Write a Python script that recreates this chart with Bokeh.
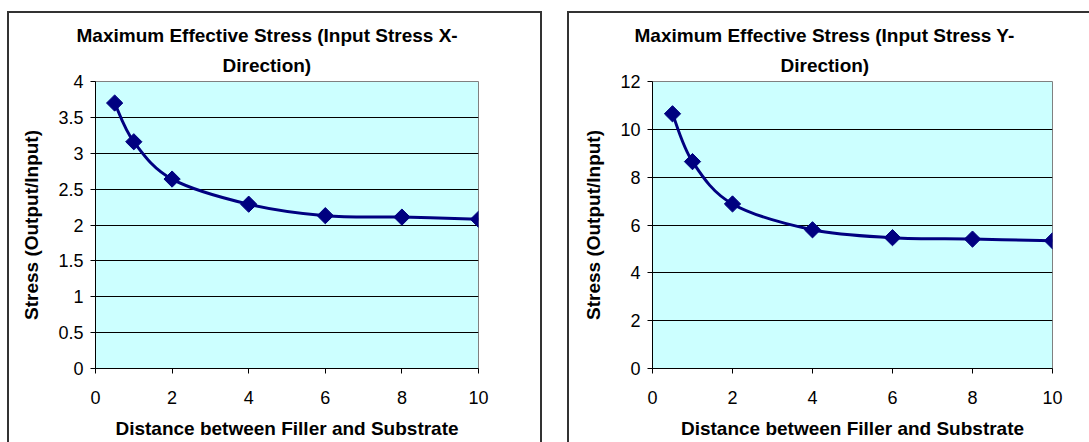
from bokeh.plotting import figure
from bokeh.models import Title, FixedTicker, Row
from bokeh.embed import file_html
from bokeh.resources import INLINE
import numpy as np

# Distance between filler and substrate (x) and normalised stress results
distance = [0.5, 1, 2, 4, 6, 8, 10]
stress_input_x = [3.70, 3.16, 2.64, 2.29, 2.13, 2.11, 2.08]
stress_input_y = [10.65, 8.65, 6.88, 5.80, 5.47, 5.41, 5.34]

x_ticks = [0, 2, 4, 6, 8, 10]
y_ticks_left = [0, 0.5, 1, 1.5, 2, 2.5, 3, 3.5, 4]
y_labels_left = ["0", "0.5", "1", "1.5", "2", "2.5", "3", "3.5", "4"]
y_ticks_right = [0, 2, 4, 6, 8, 10, 12]
y_labels_right = ["0", "2", "4", "6", "8", "10", "12"]

titles_left = ["Maximum Effective Stress (Input Stress X-", "Direction)"]
titles_right = ["Maximum Effective Stress (Input Stress Y-", "Direction)"]
x_label = "Distance between Filler and Substrate"
y_label = "Stress (Output/Input)"

FONT = "Liberation Sans"
NAVY = "#000080"


def smooth_segments(xs, ys):
    """Cubic Bezier pieces through the points (Catmull-Rom style smoothing)."""
    n = len(xs)
    seg = dict(x0=[], y0=[], x1=[], y1=[], cx0=[], cy0=[], cx1=[], cy1=[])
    for i in range(n - 1):
        a = i - 1 if i > 0 else i
        d = i + 2 if i + 2 < n else i + 1
        seg["x0"].append(xs[i]); seg["y0"].append(ys[i])
        seg["x1"].append(xs[i + 1]); seg["y1"].append(ys[i + 1])
        seg["cx0"].append(xs[i] + (xs[i + 1] - xs[a]) / 6)
        seg["cy0"].append(ys[i] + (ys[i + 1] - ys[a]) / 6)
        seg["cx1"].append(xs[i + 1] - (xs[d] - xs[i]) / 6)
        seg["cy1"].append(ys[i + 1] - (ys[d] - ys[i]) / 6)
    return seg


def make_panel(values, y_max, y_ticks, y_labels, titles, width,
               left, right, top, bottom, title_offsets):
    p = figure(width=width, height=429, x_range=(0, 10), y_range=(0, y_max),
               output_backend="svg", toolbar_location=None,
               min_border_left=left, min_border_right=right,
               min_border_top=top, min_border_bottom=bottom,
               background_fill_color="#CCFFFF", border_fill_color="white",
               styles={"outline": "2px solid #333"})
    p.outline_line_color = "#808080"
    p.outline_line_width = 1

    # two-line chart title; the figure's own title is the outer line
    p.title.text = titles[0]
    p.title.align = "left"
    p.title.offset = title_offsets[0]
    p.title.text_font = FONT
    p.title.text_font_size = "19px"
    p.title.text_font_style = "bold"
    p.title.text_color = "black"
    p.title.standoff = 3
    p.add_layout(Title(text=titles[1], align="left", offset=title_offsets[1],
                       text_font=FONT, text_font_size="19px",
                       text_font_style="bold", text_color="black",
                       standoff=11), "above")

    for ax in (p.xaxis[0], p.yaxis[0]):
        ax.axis_line_color = "black"
        ax.axis_line_width = 1
        ax.major_tick_line_color = "black"
        ax.major_tick_out = 5
        ax.major_tick_in = 0
        ax.minor_tick_line_color = None
        ax.major_label_text_font = FONT
        ax.major_label_text_font_size = "18px"
        ax.major_label_text_color = "black"
        ax.axis_label_text_font = FONT
        ax.axis_label_text_font_size = "19px"
        ax.axis_label_text_font_style = "bold"
        ax.axis_label_text_color = "black"

    p.xaxis.ticker = FixedTicker(ticks=x_ticks)
    p.xaxis.axis_label = x_label
    p.xaxis.major_label_standoff = 17
    p.xaxis.axis_label_standoff = 11

    p.yaxis.ticker = FixedTicker(ticks=y_ticks)
    p.yaxis.major_label_overrides = {t: s for t, s in zip(y_ticks, y_labels)}
    p.yaxis.axis_label = y_label
    p.yaxis.major_label_standoff = 7
    p.yaxis.axis_label_standoff = 13

    p.xgrid.grid_line_color = None
    p.ygrid.grid_line_color = "black"
    p.ygrid.grid_line_width = 1

    seg = smooth_segments(distance, values)
    p.bezier(x0=seg["x0"], y0=seg["y0"], x1=seg["x1"], y1=seg["y1"],
             cx0=seg["cx0"], cy0=seg["cy0"], cx1=seg["cx1"], cy1=seg["cy1"],
             line_color=NAVY, line_width=3)
    p.scatter(distance, values, marker="square", angle=np.pi / 4, size=11.5,
              fill_color=NAVY, line_color=NAVY)
    return p


p1 = make_panel(stress_input_x, 4, y_ticks_left, y_labels_left, titles_left,
                531, 86, 62, 68, 71, (-19, 127))
p2 = make_panel(stress_input_y, 12, y_ticks_right, y_labels_right, titles_right,
                520, 83, 37, 66, 74, (-18, 128))

layout = Row(children=[p1, p2], spacing=29, margin=(13, 0, 0, 9))

open("out.html", "w").write(file_html(layout, INLINE))
